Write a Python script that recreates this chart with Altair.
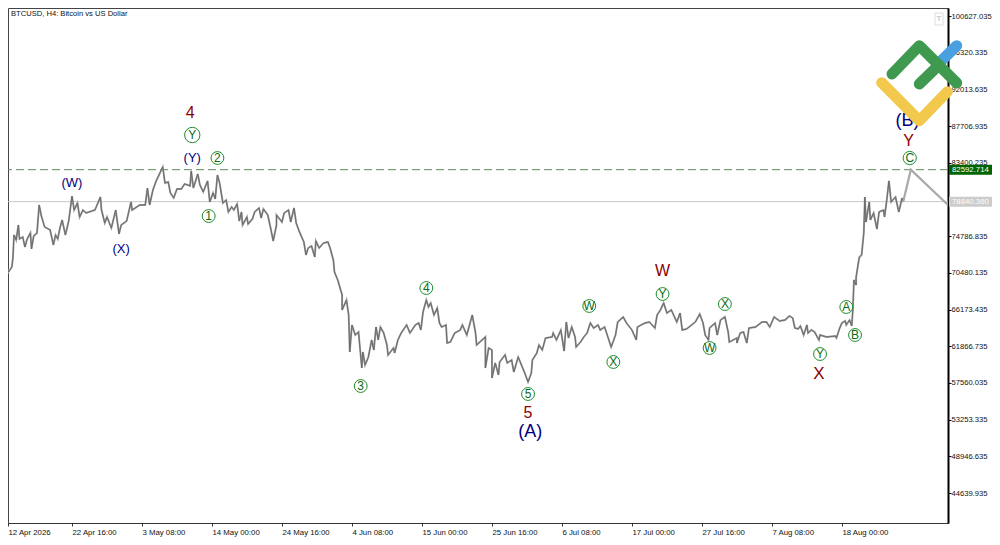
import altair as alt
import pandas as pd

# BTCUSD H4: bar number since 12 Apr 2026 and the price
bars = [0,1,3,4,6,9,10,11,13,15,16,19,21,23,26,27,29,32,34,36,39,44,47,49,51,53,55,58,61,64,66,69,71,74,77,82,85,90,91,94,96,100,104,107,109,114,118,119,126,131,133,135,138,141,147,149,152,154,157,160,164,167,172,173,175,179,181,184,188,190,193,195,197,199,202,205,207,210,212,215,217,219,220,224,225,229,231,235,237,239,243,246,248,251,251,256,258,262,264,267,269,272,276,278,280,283,286,287,290,294,298,300,303,304,307,311,311,315,317,318,320,323,326,329,330,332,335,338,340,342,344,346,349,352,353,358,359,362,365,370,373,378,381,383,385,388,390,392,395,398,400,402,406,407,410,414,419,421,425,430,433,434,442,442,445,448,448,451,454,455,460,462,466,468,472,475,478,481,484,485,489,491,494,497,503,504,507,511,514,516,518,521,524,525,529,532,535,538,541,545,547,551,554,557,561,563,568,571,576,580,581,588,592,597,599,602,605,608,612,617,620,622,626,634,638,641,643,646,647,652,654,657,661,664,665,672,672,675,678,681,683,689,695,699,702,706,711,716,720,723,725,728,730,733,736,737,740,743,747,748,754,762,763,766,768,771,772,775,777,778,779,781,781,783,784,786,788,789,790,793,794,797,800,802,806,807,809,811,813,817,820,823,824]
prices = [73170,71640,70820,71290,70590,71170,72230,74930,74340,76100,74460,74690,73520,74460,75170,73290,74810,75170,78450,77160,75870,75520,73760,74930,74460,75750,76690,74930,76570,79500,77860,78680,77040,77860,77510,77740,77860,79390,77860,76340,77040,75750,77860,75050,76100,76570,78800,77860,78450,78450,80440,78450,80210,81270,82910,81030,81150,79860,79270,80330,80330,80920,80680,82440,80440,82090,80800,79980,81270,78800,79860,79150,81970,81030,78680,79030,77630,78220,77860,78570,76570,77630,76100,77040,76220,76810,77630,78100,76920,77980,77280,75520,74220,76100,77280,76450,77510,77860,76450,78100,76340,75280,74110,72580,73400,73640,72340,74220,73400,73990,74110,73400,71990,70590,69650,67890,66130,67300,65540,61200,64370,63190,63550,59320,61200,59670,60610,62610,61430,64130,62610,64130,63430,62020,60840,61670,61080,62610,63430,64370,63430,64370,64600,63780,65890,67300,66480,66950,65540,66360,64600,64130,64370,62250,62370,63430,63780,64370,63190,65540,63430,62020,62960,59320,61670,61430,58150,59910,58500,60020,60850,59910,60260,58850,60610,59670,58730,57680,58730,60260,61080,62020,61430,62840,62960,63430,62610,63780,61310,64720,62840,64130,62960,61780,62370,62960,63430,64600,64010,64370,63780,64130,62960,61780,63190,64720,65310,64600,63780,62610,64130,64600,64720,64010,65540,66130,66950,65770,66130,64720,65770,63780,63900,64720,65660,64600,63190,62610,64010,64600,63190,64950,65310,63550,62370,62840,62250,63430,63550,62250,64010,64130,64720,64720,64130,65310,64840,64950,65420,65190,64010,63900,64250,63190,64370,63430,63780,63550,62610,63190,62960,63070,62840,64010,64600,64840,64370,64950,64250,66130,69650,69060,70000,71640,72350,72580,75160,79390,76450,78800,76690,77510,75630,77630,77860,77040,79030,81270,78800,79390,77630,79270,78800]

forecast_bars = [824, 831, 865]
forecast_prices = [78800, 82590, 78450]

x_tick_bars = [5.5, 64, 128, 192, 256, 320, 384, 448, 512, 576, 640, 704, 768]
x_tick_labels = ["12 Apr 2026", "22 Apr 16:00", "3 May 08:00", "14 May 00:00", "24 May 16:00", "4 Jun 08:00",
                 "15 Jun 00:00", "25 Jun 16:00", "6 Jul 08:00", "17 Jul 00:00", "27 Jul 16:00", "7 Aug 08:00", "18 Aug 00:00"]
y_ticks = [100627.035, 96320.335, 92013.635, 87706.935, 83400.235, 74786.835, 70480.135, 66173.435,
           61866.735, 57560.035, 53253.335, 48946.635, 44639.935]

level_dash = 82592.714
level_solid = 78840.360

plain_text = ["4", "(Y)", "(W)", "(X)", "5", "(A)", "W", "X", "Y", "(B)"]
plain_bar = [172, 174, 64, 109, 481, 483, 604, 747, 829, 828]
plain_price = [89245, 83964, 81030, 73285, 54039, 51809, 70703, 58616, 85959, 88306]
plain_color = ["#8b0000", "#000080", "#000080", "#000080", "#8b0000", "#000080", "#8b0000", "#8b0000", "#8b0000", "#000080"]
plain_size = [16, 13, 13, 13, 16, 18, 16, 17, 16, 18]

ring_text = ["Y", "2", "1", "3", "4", "5", "W", "X", "Y", "X", "W", "Y", "A", "B", "C"]
ring_bar = [174, 197, 189, 328, 388, 481, 537, 559, 604, 661, 647, 748, 772, 780, 830]
ring_price = [86662, 83964, 77157, 57208, 68708, 56269, 66596, 60024, 68004, 66830, 61667, 60963, 66479, 63193, 83964]
ring_area = [235, 165, 165, 165, 165, 165, 165, 165, 165, 165, 165, 165, 165, 165, 175]

logo_part = ["g1", "g1", "g1", "g2", "g2", "b", "b", "y", "y", "y"]
logo_x = [884, 911.3, 948.7, 911.3, 931, 931, 948.7, 873.7, 911.3, 939.3]
logo_y = [66, 37.7, 75, 76, 57, 55, 37.7, 74.7, 112.7, 83.7]
logo_color = {"g1": "#3f9a4f", "g2": "#3f9a4f", "b": "#4a9fe0", "y": "#f2c94c"}

FONT = "Liberation Sans"
x_scale = alt.Scale(domain=[5.5, 865], nice=False, zero=False)
y_scale = alt.Scale(domain=[41131, 101566], nice=False, zero=False)

series = pd.DataFrame({"bar": bars, "price": prices, "i": range(len(bars))})
fc = pd.DataFrame({"bar": forecast_bars, "price": forecast_prices, "i": range(3)})
plain = pd.DataFrame({"bar": plain_bar, "price": plain_price, "t": plain_text, "c": plain_color, "s": plain_size})
ring = pd.DataFrame({"bar": ring_bar, "price": ring_price, "t": ring_text, "a": ring_area})
logo = pd.DataFrame({"part": logo_part, "x": logo_x, "y": logo_y, "i": range(len(logo_x))})

labels_js = "[" + ",".join("'%s'" % s for s in x_tick_labels) + "]"
values_js = "[" + ",".join(str(v) for v in x_tick_bars) + "]"
x_axis = alt.Axis(values=x_tick_bars, labelExpr=f"{labels_js}[indexof({values_js}, datum.value)]",
                  labelAlign="left", labelFont=FONT, labelFontSize=7.8, labelColor="#111", labelPadding=2,
                  tickSize=3, tickColor="#333", domainColor="#333", grid=False, title=None,
                  labelOverlap=False, labelBound=False, labelFlush=False)
y_axis = alt.Axis(orient="right", values=y_ticks, format=".3f", labelFont=FONT, labelFontSize=7.6, labelColor="#111",
                  labelPadding=0, tickSize=3, tickColor="#000", domainColor="#000", domainWidth=2, grid=False, title=None,
                  labelOverlap=False, labelBound=False)
X = alt.X("bar:Q", scale=x_scale, axis=x_axis)
Y = alt.Y("price:Q", scale=y_scale, axis=y_axis)

base = alt.Chart(series)
under = base.mark_line(color="#9c9c9c", strokeWidth=1.9, clip=True).encode(x=X, y=Y, order="i:Q")
over = base.mark_line(color="#666666", strokeWidth=0.9, clip=True).encode(x=X, y=Y, order="i:Q")
forecast = alt.Chart(fc).mark_line(color="#a9a9a9", strokeWidth=2.2, clip=True).encode(x=X, y=Y, order="i:Q")

dash = alt.Chart(pd.DataFrame({"price": [level_dash]})).mark_rule(color="#5d8a5d", strokeWidth=1, strokeDash=[8, 4]).encode(y=Y)
solid = alt.Chart(pd.DataFrame({"price": [level_solid]})).mark_rule(color="#c8c8c8", strokeWidth=1).encode(y=Y)

tags = pd.DataFrame({"price": [level_dash, level_solid], "t": ["82592.714", "78840.360"], "c": ["#006400", "#cccccc"]})
tag_box = alt.Chart(tags).mark_rect(height=10).encode(
    x=alt.value(941), x2=alt.value(984), y=Y, color=alt.Color("c:N", scale=None, legend=None))
tag_text = alt.Chart(tags).mark_text(font=FONT, fontSize=7.8, color="white", align="left", baseline="middle").encode(
    x=alt.value(944), y=Y, text="t:N")

plain_layer = alt.Chart(plain).mark_text(font=FONT, baseline="middle", align="center").encode(
    x=X, y=Y, text="t:N", color=alt.Color("c:N", scale=None, legend=None),
    size=alt.Size("s:Q", scale=None, legend=None))
ring_marks = alt.Chart(ring).mark_point(filled=True, fill="white", stroke="#1e8c2e", strokeWidth=1, opacity=1, shape="circle").encode(
    x=X, y=Y, size=alt.Size("a:Q", scale=None, legend=None))
ring_text_layer = alt.Chart(ring).mark_text(font=FONT, fontSize=12, color="#0b6b12", baseline="middle", align="center").encode(
    x=X, y=Y, text="t:N")

caption = alt.Chart(pd.DataFrame({"t": ["BTCUSD, H4:  Bitcoin vs US Dollar"]})).mark_text(
    font=FONT, fontSize=7.6, color="#111", align="left", baseline="top").encode(x=alt.value(3), y=alt.value(2), text="t:N")
icon_box = alt.Chart(pd.DataFrame({"a": [1]})).mark_rect(fill="white", stroke="#dddddd", strokeWidth=1).encode(
    x=alt.value(927), x2=alt.value(935), y=alt.value(5), y2=alt.value(17))
icon_text = alt.Chart(pd.DataFrame({"t": ["T"]})).mark_text(font=FONT, fontSize=8, color="#cccccc", fontWeight="bold").encode(
    x=alt.value(931), y=alt.value(11), text="t:N")

logo_layers = []
for part in ["y", "b", "g2", "g1"]:
    logo_layers.append(
        alt.Chart(logo[logo.part == part]).mark_line(
            color=logo_color[part], strokeWidth=11, strokeCap="round", strokeJoin="round", clip=False
        ).encode(x=alt.X("x:Q", scale=None, axis=None), y=alt.Y("y:Q", scale=None, axis=None), order="i:Q")
    )

chart = alt.layer(
    solid, dash, under, over, forecast, tag_box, tag_text, ring_marks, ring_text_layer, plain_layer,
    caption, icon_box, icon_text, *logo_layers
).resolve_scale(color="independent", size="independent").properties(
    width=940, height=515,
    autosize=alt.AutoSizeParams(type="none"),
    padding={"left": 0, "top": 0, "right": 44, "bottom": 14},
    background="white",
).configure_view(stroke="#444", strokeWidth=1)

chart.save("out.html", embed_options={"renderer": "svg", "actions": False})
